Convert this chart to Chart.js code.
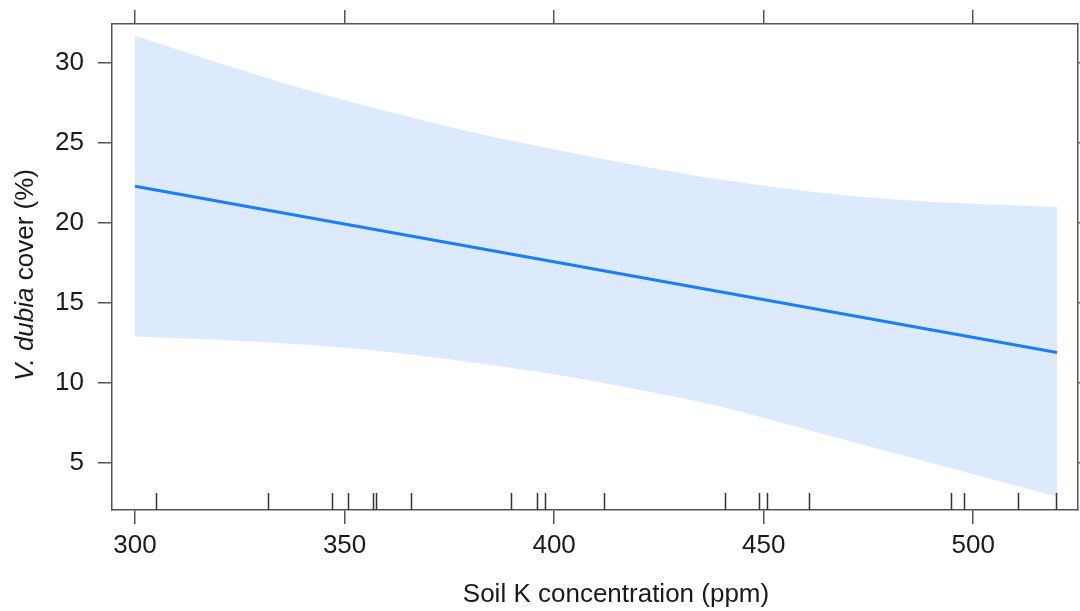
<!DOCTYPE html>
<html>
<head>
<meta charset="utf-8">
<script src="https://cdn.jsdelivr.net/npm/chart.js@4"></script>
<style>
  html, body { margin: 0; padding: 0; background: #fff; }
  #wrap { width: 1080px; height: 611px; position: relative; }
</style>
</head>
<body>
<div id="wrap"><canvas id="effectChart" width="1080" height="611"></canvas></div>
<script>
// fitted line (soil K vs cover)
const fitX = [300, 520];
const fitY = [22.3, 11.9];

// confidence band
const bandX = [300, 320, 340, 360, 380, 400, 420, 440, 460, 480, 500, 520];
const bandUpper = [31.7, 30.0, 28.4, 27.0, 25.7, 24.6, 23.6, 22.7, 22.0, 21.5, 21.2, 21.0];
const bandLower = [12.9, 12.7, 12.4, 11.95, 11.3, 10.55, 9.6, 8.5, 7.1, 5.7, 4.3, 2.9];

// rug of observed soil K values
const rugX = [304.9, 331.8, 346.9, 350.9, 356.7, 357.6, 365.8, 389.7, 396.0, 397.9, 411.8,
              440.7, 449.0, 450.9, 460.7, 494.8, 497.9, 510.7, 519.8];

const xTicks = [300, 350, 400, 450, 500];
const yTicks = [5, 10, 15, 20, 25, 30];

const FONT = "'Liberation Sans', Arial, Helvetica, sans-serif";
const TEXT = '#1a1a1a';
const AXIS = '#555';

const toPts = (xs, ys) => xs.map((x, i) => ({ x: x, y: ys[i] }));

// rug marks + axis titles (y title has italic species name)
const extras = {
  id: 'extras',
  afterDatasetsDraw(chart) {
    const { ctx, chartArea, scales } = chart;
    ctx.save();
    ctx.strokeStyle = '#333';
    ctx.lineWidth = 1.5;
    rugX.forEach(v => {
      const px = Math.round(scales.x.getPixelForValue(v)) + 0.5;
      ctx.beginPath();
      ctx.moveTo(px, chartArea.bottom - 17);
      ctx.lineTo(px, chartArea.bottom);
      ctx.stroke();
    });
    ctx.restore();
  },
  afterDraw(chart) {
    const ctx = chart.ctx;
    ctx.save();
    ctx.fillStyle = TEXT;
    ctx.textBaseline = 'middle';

    // x title
    ctx.font = '26px ' + FONT;
    ctx.textAlign = 'center';
    ctx.fillText('Soil K concentration (ppm)', 616, 595);

    // y title, rotated
    ctx.translate(26, 275);
    ctx.rotate(-Math.PI / 2);
    const italic = 'italic 26px ' + FONT;
    const normal = '26px ' + FONT;
    ctx.font = italic;
    const w1 = ctx.measureText('V. dubia').width;
    ctx.font = normal;
    const w2 = ctx.measureText(' cover (%)').width;
    let start = -(w1 + w2) / 2;
    ctx.textAlign = 'left';
    ctx.font = italic;
    ctx.fillText('V. dubia', start, 0);
    ctx.font = normal;
    ctx.fillText(' cover (%)', start + w1, 0);
    ctx.restore();
  }
};

const tickGrid = { drawOnChartArea: false, drawTicks: true, tickLength: 14, color: AXIS, lineWidth: 1.5 };
const boxBorder = { display: true, color: AXIS, width: 1.5 };

// fixed box sizes so the plot frame lands where the reference has it
const fitV = w => s => { s.width = w; s.paddingTop = 0; s.paddingBottom = 0; };
const fitH = h => s => { s.height = h; s.paddingLeft = 0; s.paddingRight = 0; };

new Chart(document.getElementById('effectChart'), {
  type: 'line',
  data: {
    datasets: [
      {
        data: toPts(fitX, fitY),
        borderColor: '#1a7ef8',
        borderWidth: 3,
        pointRadius: 0,
        fill: false,
        order: 0
      },
      {
        data: toPts(bandX, bandUpper),
        borderWidth: 0,
        borderColor: 'rgba(0,0,0,0)',
        backgroundColor: '#dde9fc',
        pointRadius: 0,
        cubicInterpolationMode: 'monotone',
        fill: '+1',
        order: 1
      },
      {
        data: toPts(bandX, bandLower),
        borderWidth: 0,
        borderColor: 'rgba(0,0,0,0)',
        pointRadius: 0,
        cubicInterpolationMode: 'monotone',
        fill: false,
        order: 1
      }
    ]
  },
  options: {
    responsive: false,
    animation: false,
    layout: { padding: 0 },
    plugins: { legend: { display: false }, tooltip: { enabled: false } },
    scales: {
      x: {
        type: 'linear',
        position: 'bottom',
        min: 294.5,
        max: 525,
        afterBuildTicks: s => { s.ticks = xTicks.map(v => ({ value: v })); },
        afterFit: fitH(101),
        ticks: { color: TEXT, font: { family: FONT, size: 26 }, padding: 6, maxRotation: 0 },
        grid: tickGrid,
        border: boxBorder
      },
      xTop: {
        type: 'linear',
        position: 'top',
        min: 294.5,
        max: 525,
        afterBuildTicks: s => { s.ticks = xTicks.map(v => ({ value: v })); },
        afterFit: fitH(24),
        ticks: { display: false },
        grid: tickGrid,
        border: boxBorder
      },
      y: {
        type: 'linear',
        position: 'left',
        min: 2.06,
        max: 32.44,
        afterBuildTicks: s => { s.ticks = yTicks.map(v => ({ value: v })); },
        afterFit: fitV(112),
        ticks: { color: TEXT, font: { family: FONT, size: 26 }, padding: 14 },
        grid: tickGrid,
        border: boxBorder
      },
      yRight: {
        type: 'linear',
        position: 'right',
        min: 2.06,
        max: 32.44,
        afterBuildTicks: s => { s.ticks = yTicks.map(v => ({ value: v })); },
        afterFit: fitV(2),
        ticks: { display: false },
        grid: tickGrid,
        border: boxBorder
      }
    }
  },
  plugins: [extras]
});
</script>
</body>
</html>
